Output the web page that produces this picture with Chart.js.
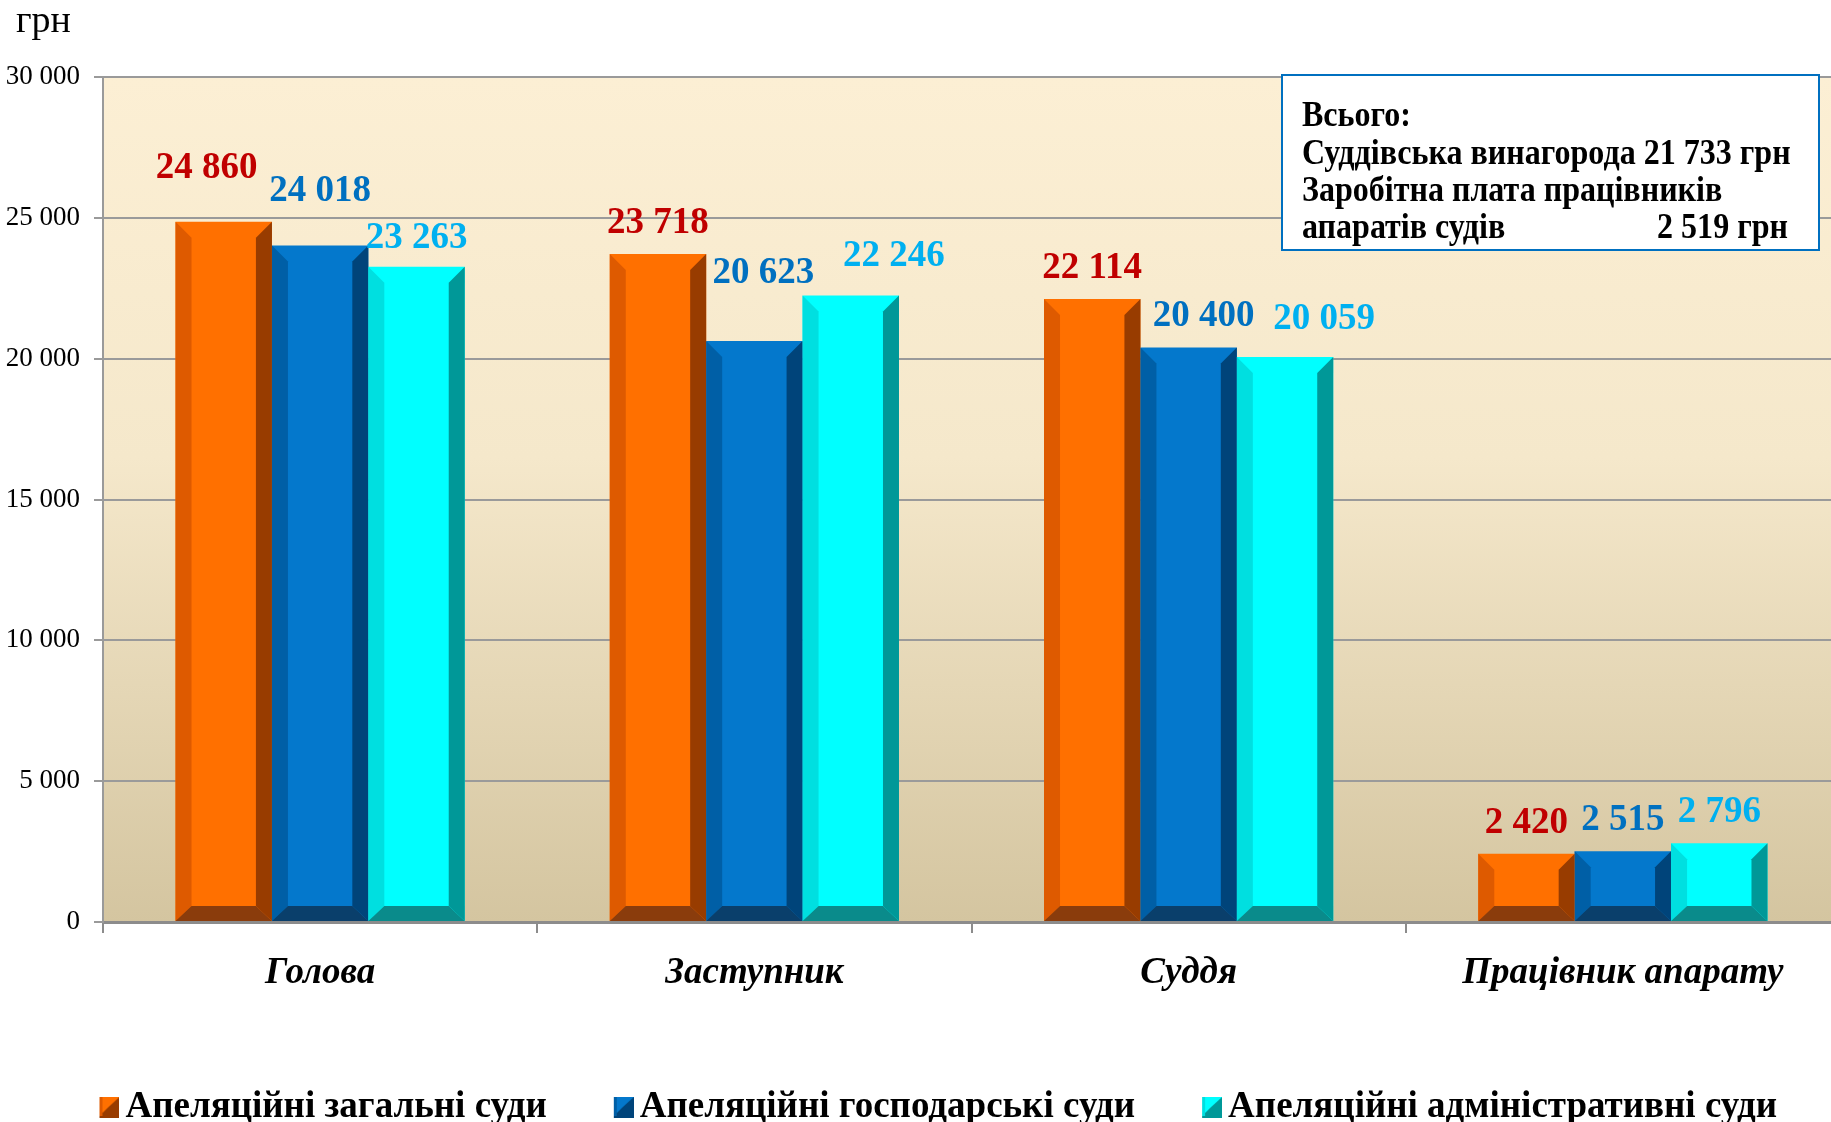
<!DOCTYPE html>
<html>
<head>
<meta charset="utf-8">
<title>Заробітна плата в апеляційних судах</title>
<script src="https://cdn.jsdelivr.net/npm/chart.js@4.4.1/dist/chart.umd.min.js"></script>
<style>
  html, body { margin: 0; padding: 0; background: #fff; overflow: hidden; }
  #wrap { width: 1831px; height: 1122px; overflow: hidden; }
  #chart { display: block; }
</style>
</head>
<body>
<div id="wrap"><canvas id="chart" width="1840" height="1122"></canvas></div>
<script>
// data
var categories = ['Голова', 'Заступник', 'Суддя', 'Працівник апарату'];
var seriesNames = ['Апеляційні загальні суди', 'Апеляційні господарські суди', 'Апеляційні адміністративні суди'];
var generalCourts = [24860, 23718, 22114, 2420];
var commercialCourts = [24018, 20623, 20400, 2515];
var adminCourts = [23263, 22246, 20059, 2796];
var yTicks = [0, 5000, 10000, 15000, 20000, 25000, 30000];
var unitLabel = 'грн';
var noteTitle = 'Всього:';
var noteJudges = 'Суддівська винагорода 21 733 грн';
var noteStaff1 = 'Заробітна плата працівників';
var noteStaff2 = 'апаратів судів';
var noteStaffValue = '2 519 грн';

var SERIF = '"Liberation Serif", "Times New Roman", serif';

// colours of the bevelled bars: front, left, right, bottom faces + value colour
var faces = [
  { front: '#ff7000', left: '#de5a00', right: '#983c00', bottom: '#8a3c0c', text: '#c00000' },
  { front: '#0478cc', left: '#005fa6', right: '#00447a', bottom: '#0a3f6b', text: '#0070c0' },
  { front: '#00ffff', left: '#00dfe0', right: '#009898', bottom: '#0a8b8b', text: '#00b0f0' }
];

// hand placement of some value labels in the original (dx, extra lift), px
var labelNudge = [
  [[-17, 23], [0, 0], [0, 0], [0, 0]],
  [[0, 23], [9, 37], [15, 0], [0, 0]],
  [[0, -2], [43, 8], [39, 7], [0, 0]]
];

function fmt(v) {
  return String(v).replace(/\B(?=(\d{3})+(?!\d))/g, ' ');
}

function poly(ctx, color, pts) {
  ctx.beginPath();
  ctx.moveTo(pts[0][0], pts[0][1]);
  for (var i = 1; i < pts.length; i++) ctx.lineTo(pts[i][0], pts[i][1]);
  ctx.closePath();
  ctx.fillStyle = color;
  ctx.fill();
}

// small bevelled legend icons; the square sits at the right of a wider
// transparent image so it ends up close to its text
function legendIcon(f) {
  var c = document.createElement('canvas');
  c.width = 45; c.height = 21;
  var g = c.getContext('2d');
  g.translate(25, 0);
  g.fillStyle = f.front; g.fillRect(0, 0, 20, 21);
  poly(g, f.right, [[20, 0], [20, 21], [0, 21], [0, 19], [8, 11]]);
  g.fillStyle = f.left; g.fillRect(0, 0, 3, 19);
  return c;
}

// plot area gradient, under grid and bars
var backgroundPlugin = {
  id: 'plotBackground',
  beforeDraw: function(chart) {
    var a = chart.chartArea, ctx = chart.ctx;
    var grd = ctx.createLinearGradient(0, a.top, 0, a.bottom);
    grd.addColorStop(0, '#fcefd4');
    grd.addColorStop(0.45, '#f5e8cb');
    grd.addColorStop(1, '#d4c5a0');
    ctx.save();
    ctx.fillStyle = grd;
    ctx.fillRect(a.left, a.top, a.right - a.left, a.bottom - a.top);
    ctx.restore();
  }
};

// nudge the legend a little to the right, as in the original
var legendShift = {
  id: 'legendShift',
  afterLayout: function(chart) {
    chart.legend.left += 12;
    chart.legend.right += 12;
  }
};

// bevel faces on each bar, then the value labels
var bevelPlugin = {
  id: 'bevelBars',
  afterDatasetsDraw: function(chart) {
    var ctx = chart.ctx, b = 16, bb = 15;
    ctx.save();
    chart.data.datasets.forEach(function(ds, i) {
      var f = faces[i];
      chart.getDatasetMeta(i).data.forEach(function(bar, j) {
        var p = bar.getProps(['x', 'y', 'base', 'width'], true);
        var x0 = p.x - p.width / 2, x1 = p.x + p.width / 2, y0 = p.y, y1 = p.base;
        poly(ctx, f.left, [[x0, y0], [x0 + b, y0 + b], [x0 + b, y1 - bb], [x0, y1]]);
        poly(ctx, f.right, [[x1, y0], [x1 - b, y0 + b], [x1 - b, y1 - bb], [x1, y1]]);
        poly(ctx, f.bottom, [[x0, y1], [x0 + b, y1 - bb], [x1 - b, y1 - bb], [x1, y1]]);
      });
    });
    ctx.font = 'bold 37px ' + SERIF;
    ctx.textAlign = 'center';
    ctx.textBaseline = 'alphabetic';
    chart.data.datasets.forEach(function(ds, i) {
      ctx.fillStyle = faces[i].text;
      chart.getDatasetMeta(i).data.forEach(function(bar, j) {
        var p = bar.getProps(['x', 'y'], true);
        var n = labelNudge[i][j];
        ctx.fillText(fmt(ds.data[j]), p.x + n[0], p.y - 21 - n[1]);
      });
    });
    ctx.restore();
  }
};

// text squeezed a bit sideways, like the narrow type in the note box
function narrowText(ctx, text, x, y, align) {
  ctx.save();
  ctx.translate(x, y);
  ctx.scale(0.89, 1);
  ctx.textAlign = align;
  ctx.fillText(text, 0, 0);
  ctx.restore();
}

// unit caption and the "Всього" note box
var notesPlugin = {
  id: 'notes',
  afterDraw: function(chart) {
    var ctx = chart.ctx;
    ctx.save();
    ctx.fillStyle = '#000';
    ctx.font = '38px ' + SERIF;
    ctx.textAlign = 'left';
    ctx.textBaseline = 'alphabetic';
    ctx.fillText(unitLabel, 16, 32);

    var bx = 1282, by = 75, bw = 537, bh = 175;
    ctx.fillStyle = '#fff';
    ctx.fillRect(bx, by, bw, bh);
    ctx.strokeStyle = '#0070c0';
    ctx.lineWidth = 2;
    ctx.strokeRect(bx, by, bw, bh);

    ctx.fillStyle = '#000';
    ctx.font = 'bold 36px ' + SERIF;
    narrowText(ctx, noteTitle, 1302, 126, 'left');
    narrowText(ctx, noteJudges, 1302, 164, 'left');
    narrowText(ctx, noteStaff1, 1302, 201, 'left');
    narrowText(ctx, noteStaff2, 1302, 238, 'left');
    narrowText(ctx, noteStaffValue, 1788, 238, 'right');
    ctx.restore();
  }
};

var datasets = [generalCourts, commercialCourts, adminCourts].map(function(values, i) {
  return {
    label: seriesNames[i],
    data: values,
    backgroundColor: faces[i].front,
    borderWidth: 0,
    barPercentage: 1,
    categoryPercentage: 0.666
  };
});

var ctx = document.getElementById('chart').getContext('2d');
var myChart = new Chart(ctx, {
  type: 'bar',
  data: { labels: categories, datasets: datasets },
  options: {
    responsive: false,
    maintainAspectRatio: false,
    animation: false,
    devicePixelRatio: 1,
    layout: { padding: { top: 77, right: 0, bottom: -14, left: 0 } },
    scales: {
      x: {
        grid: { display: true, drawOnChartArea: false, drawTicks: true, tickLength: 11, color: '#8c8c8c', lineWidth: 2, offset: true },
        border: { display: true, color: '#8c8c8c', width: 3 },
        ticks: {
          color: '#000', padding: 18, maxRotation: 0, autoSkip: false,
          font: { family: SERIF, size: 37, style: 'italic', weight: 'bold' }
        },
        afterFit: function(s) { s.height = 112.5; }
      },
      y: {
        min: 0,
        max: 30000,
        afterBuildTicks: function(s) { s.ticks = yTicks.map(function(v) { return { value: v }; }); },
        ticks: { color: '#000', padding: 14, callback: function(v) { return fmt(v); }, font: { family: SERIF, size: 27 } },
        grid: { color: '#9a9a9a', lineWidth: 2, tickLength: 9 },
        border: { color: '#9a9a9a', width: 2 },
        afterFit: function(s) { s.width = 103; }
      }
    },
    plugins: {
      tooltip: { enabled: false },
      legend: {
        position: 'bottom',
        labels: {
          usePointStyle: true,
          boxWidth: 20,
          boxHeight: 20,
          padding: 54.5,
          color: '#000',
          font: { family: SERIF, size: 37, weight: 'bold' },
          generateLabels: function(chart) {
            var items = Chart.defaults.plugins.legend.labels.generateLabels(chart);
            items.forEach(function(it, i) { it.pointStyle = legendIcon(faces[i]); });
            return items;
          }
        }
      }
    }
  },
  plugins: [backgroundPlugin, legendShift, bevelPlugin, notesPlugin]
});
</script>
</body>
</html>
